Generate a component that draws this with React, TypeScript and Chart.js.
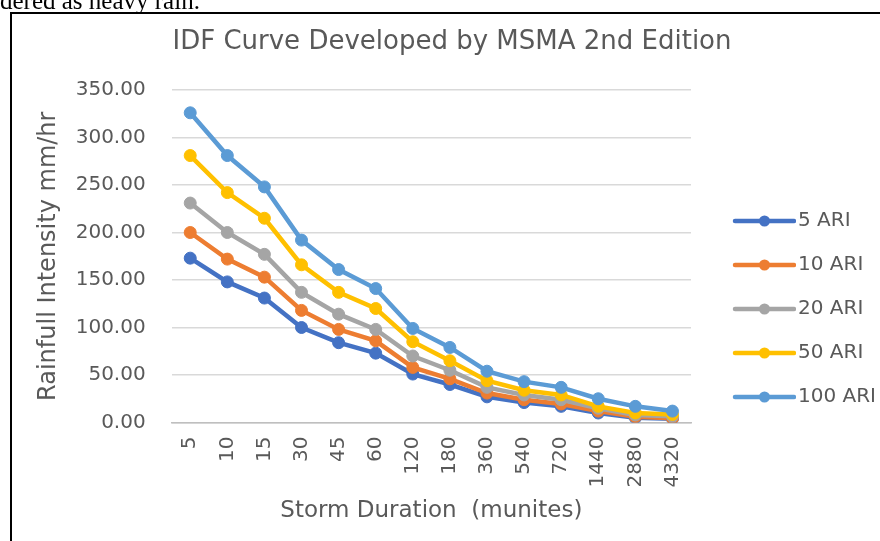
import React, { useEffect, useRef } from 'react';
import { Chart, registerables } from 'chart.js';

Chart.register(...registerables);

const durations = ['5', '10', '15', '30', '45', '60', '120', '180', '360', '540', '720', '1440', '2880', '4320'];
const seriesNames = ['5 ARI', '10 ARI', '20 ARI', '50 ARI', '100 ARI'];
const ari5 = [173, 148, 131, 100, 84, 73, 51, 40, 27, 21, 17, 10, 5, 4];
const ari10 = [200, 172, 153, 118, 98, 86, 58, 46, 31, 24, 19.5, 12, 6, 4.5];
const ari20 = [231, 200, 177, 137, 114, 98, 70, 55, 37, 29, 24, 15, 8, 6.5];
const ari50 = [281, 242, 215, 166, 137, 120, 85, 65, 44, 34, 29, 17, 10, 8.5];
const ari100 = [326, 281, 248, 192, 161, 141, 99, 79, 54, 43, 37, 25, 17, 12];
const seriesValues = [ari5, ari10, ari20, ari50, ari100];
const seriesColors = ['#4472C4', '#ED7D31', '#A5A5A5', '#FFC000', '#5B9BD5'];
const yMin = 0;
const yMax = 350;
const yStep = 50;

const chartTitle = 'IDF Curve Developed by MSMA 2nd Edition';
const yTitle = 'Rainfull Intensity mm/hr';
const xTitle = 'Storm Duration  (munites)';

const FONT = "'DejaVu Sans', sans-serif";
const TEXT = '#595959';

function makeLegendIcon(color: string) {
  const c = document.createElement('canvas');
  c.width = 89;
  c.height = 14;
  const ctx = c.getContext('2d')!;
  ctx.strokeStyle = color;
  ctx.lineWidth = 4.5;
  ctx.lineCap = 'round';
  ctx.beginPath();
  ctx.moveTo(28, 7);
  ctx.lineTo(87, 7);
  ctx.stroke();
  ctx.fillStyle = color;
  ctx.beginPath();
  ctx.arc(57.5, 7, 5.5, 0, Math.PI * 2);
  ctx.fill();
  return c;
}

export default function App() {
  const canvasRef = useRef<HTMLCanvasElement | null>(null);

  useEffect(() => {
    if (!canvasRef.current) return;
    const icons = seriesColors.map(makeLegendIcon);
    const chart = new Chart(canvasRef.current, {
      type: 'line',
      data: {
        labels: durations,
        datasets: seriesNames.map((name, i) => ({
          label: name,
          data: seriesValues[i],
          borderColor: seriesColors[i],
          backgroundColor: seriesColors[i],
          pointBackgroundColor: seriesColors[i],
          pointBorderColor: seriesColors[i],
          pointBorderWidth: 1,
          pointRadius: 6,
          borderWidth: 4.5,
          tension: 0,
          order: seriesNames.length - 1 - i,
        })),
      },
      options: {
        animation: false,
        responsive: false,
        maintainAspectRatio: false,
        layout: { padding: { left: 24, right: 0, top: 0, bottom: 0 } },
        plugins: {
          title: {
            display: true,
            text: chartTitle,
            color: TEXT,
            font: { family: FONT, size: 26, weight: 'normal' },
            padding: { top: 26.4, bottom: 32.4 },
          },
          legend: {
            display: true,
            position: 'right',
            maxWidth: 189,
            title: { display: true, text: ' ', font: { size: 10 }, padding: { top: 65, bottom: 0 } },
            labels: {
              usePointStyle: true,
              pointStyleWidth: 73,
              padding: 24,
              color: TEXT,
              font: { family: FONT, size: 20 },
              sort: (a: any, b: any) => a.datasetIndex - b.datasetIndex,
              generateLabels: (ch: any) => {
                const items = (Chart.defaults.plugins.legend.labels as any).generateLabels(ch);
                return items.map((it: any) => ({ ...it, pointStyle: icons[it.datasetIndex] }));
              },
            },
          },
          tooltip: { enabled: false },
        },
        scales: {
          x: {
            type: 'category',
            offset: true,
            grid: { display: false, drawTicks: false },
            border: { display: true, color: '#BFBFBF', width: 1.5 },
            ticks: {
              autoSkip: false,
              minRotation: 90,
              maxRotation: 90,
              padding: 14,
              color: TEXT,
              font: { family: FONT, size: 20 },
            },
            title: {
              display: true,
              text: xTitle,
              color: TEXT,
              font: { family: FONT, size: 23 },
              padding: { top: -4, bottom: 16 },
            },
          },
          y: {
            min: yMin,
            max: yMax,
            grid: { color: '#D9D9D9', lineWidth: 1.5, drawTicks: false },
            border: { display: false },
            ticks: {
              stepSize: yStep,
              padding: 26,
              color: TEXT,
              font: { family: FONT, size: 20 },
              callback: (v: any) => Number(v).toFixed(2),
            },
            title: {
              display: true,
              text: yTitle,
              color: TEXT,
              font: { family: FONT, size: 24 },
              padding: { top: 10.6, bottom: -13.7 },
            },
          },
        },
      } as any,
    });
    return () => chart.destroy();
  }, []);

  return (
    <div style={{ position: 'absolute', left: 0, top: 0, width: 880, height: 541, overflow: 'hidden', background: '#fff' }}>
      <canvas ref={canvasRef} width={880} height={541} style={{ position: 'absolute', left: 0, top: 0, width: 880, height: 541 }} />
      <div
        style={{
          position: 'absolute',
          left: 0,
          top: -12,
          fontFamily: "'Liberation Serif', 'Times New Roman', serif",
          fontSize: 25,
          lineHeight: 1,
          color: '#000',
          whiteSpace: 'nowrap',
        }}
      >
        dered as heavy rain.
      </div>
      <div style={{ position: 'absolute', left: 10, top: 12, width: 870, height: 2, background: '#000' }} />
      <div style={{ position: 'absolute', left: 10, top: 12, width: 2, height: 529, background: '#000' }} />
    </div>
  );
}
